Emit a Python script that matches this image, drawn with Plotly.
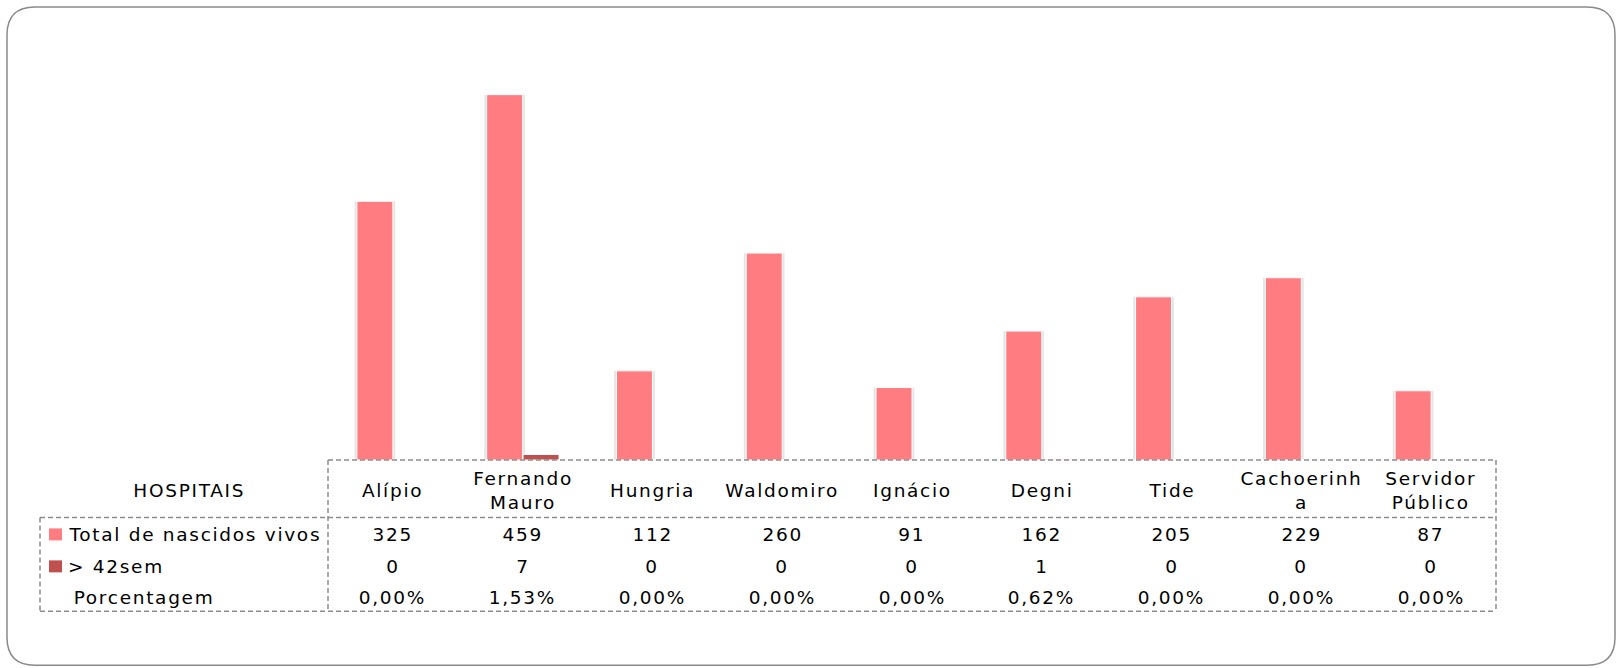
import plotly.graph_objects as go

# ---- data ----
hospitals = ["Alípio", "Fernando Mauro", "Hungria", "Waldomiro", "Ignácio",
             "Degni", "Tide", "Cachoerinha", "Servidor Público"]
tick_labels = ["Alípio", "Fernando<br>Mauro", "Hungria", "Waldomiro", "Ignácio",
               "Degni", "Tide", "Cachoerinh<br>a", "Servidor<br>Público"]
total_vivos = [325, 459, 112, 260, 91, 162, 205, 229, 87]
over_42sem = [0, 7, 0, 0, 0, 1, 0, 0, 0]
series_names = ["Total de nascidos vivos", "> 42sem", "Porcentagem"]
row_header = "HOSPITAIS"

C_TOTAL = "#FF7C80"
C_OVER = "#C0504D"
GRID = "#8c8c8c"
FONT = "DejaVu Sans"

percent = [f"{(o / t * 100):.2f}%".replace(".", ",") for o, t in zip(over_42sem, total_vivos)]

W, H = 1624, 668
L, R, T, B = 328, 1496, 62, 460.5

def px(x):
    return (x - L) / (R - L)

def py(y):
    return (B - y) / (B - T)

BW = 36 / ((R - L) / len(hospitals))  # bar width in category units

fig = go.Figure()
# soft shadow behind bars
fig.add_trace(go.Bar(x=hospitals, y=total_vivos, offset=-BW - 0.018, width=BW + 0.036,
                     marker=dict(color="rgba(0,0,0,0.10)", line=dict(width=0)),
                     showlegend=False, hoverinfo="skip"))
fig.add_trace(go.Bar(x=hospitals, y=total_vivos, name=series_names[0], offset=-BW, width=BW,
                     marker=dict(color=C_TOTAL, line=dict(color="white", width=1)),
                     showlegend=False))
fig.add_trace(go.Bar(x=hospitals, y=over_42sem, name=series_names[1], offset=0.003, width=BW,
                     marker=dict(color=C_OVER, line=dict(color="white", width=1)),
                     showlegend=False))

shapes = []
ann = []
fnt = dict(family=FONT, size=18.5, color="#000000")

# outer rounded border
x0, y0, x1, y1, r = 7, 7, 1615, 666, 28
rx, ry = r / (R - L), r / (B - T)
X0, X1, Y0, Y1 = px(x0), px(x1), py(y0), py(y1)
path = (f"M {X0+rx},{Y0} L {X1-rx},{Y0} Q {X1},{Y0} {X1},{Y0-ry} "
        f"L {X1},{Y1+ry} Q {X1},{Y1} {X1-rx},{Y1} L {X0+rx},{Y1} "
        f"Q {X0},{Y1} {X0},{Y1+ry} L {X0},{Y0-ry} Q {X0},{Y0} {X0+rx},{Y0} Z")
shapes.append(dict(type="path", path=path, xref="paper", yref="paper",
                   line=dict(color="#8a8a8a", width=1.5), layer="below"))

dash = dict(color=GRID, width=1.5, dash="5px,3px")
def seg(xa, ya, xb, yb):
    shapes.append(dict(type="line", xref="paper", yref="paper",
                       x0=px(xa), y0=py(ya), x1=px(xb), y1=py(yb), line=dash))

seg(L, B, R, B)          # axis / table top
seg(40, 518, R, 518)     # under header
seg(40, 612, R, 612)     # bottom
seg(40, 518, 40, 612)    # left
seg(L, B, L, 612)        # legend column divider
seg(R, B, R, 612)        # right

# header row
ann.append(dict(text=row_header, xref="paper", yref="paper", x=px(189), y=py(491),
                xanchor="center", yanchor="middle", showarrow=False, font=fnt))
for h, lab in zip(hospitals, tick_labels):
    ann.append(dict(text=lab, x=h, xref="x", yref="paper", y=py(491),
                    xanchor="center", yanchor="middle", showarrow=False, font=fnt))

row_y = [535, 567, 598]
name_cx = [195, 116, 144]
rows = [[str(v) for v in total_vivos], [str(v) for v in over_42sem], percent]
key_colors = [C_TOTAL, C_OVER, None]
for name, ry_, cx, vals, kc in zip(series_names, row_y, name_cx, rows, key_colors):
    ann.append(dict(text=name, xref="paper", yref="paper", x=px(cx), y=py(ry_),
                    xanchor="center", yanchor="middle", showarrow=False, font=fnt))
    if kc:
        shapes.append(dict(type="rect", xref="paper", yref="paper",
                           x0=px(49), x1=px(62), y0=py(ry_ - 6), y1=py(ry_ + 6),
                           fillcolor=kc, line=dict(width=0)))
    for h, v in zip(hospitals, vals):
        ann.append(dict(text=v, x=h, xref="x", yref="paper", y=py(ry_),
                        xanchor="center", yanchor="middle", showarrow=False, font=fnt))

fig.update_layout(
    width=W, height=H,
    margin=dict(l=L, r=W - R, t=T, b=H - B, pad=0),
    paper_bgcolor="white", plot_bgcolor="white",
    barmode="overlay",
    xaxis=dict(categoryorder="array", categoryarray=hospitals, showticklabels=False,
               showgrid=False, zeroline=False, showline=False, ticks="",
               range=[-0.5, len(hospitals) - 0.5]),
    yaxis=dict(range=[0, 500], visible=False),
    shapes=shapes, annotations=ann,
    font=dict(family=FONT),
    showlegend=False,
)

post = ("document.body.style.margin='0';document.body.style.overflow='hidden';"
        "var s=document.createElement('style');"
        "s.textContent='.annotation-text{letter-spacing:1.7px}';"
        "document.head.appendChild(s);")
fig.write_html("out.html", post_script=post, config={"displayModeBar": False})
